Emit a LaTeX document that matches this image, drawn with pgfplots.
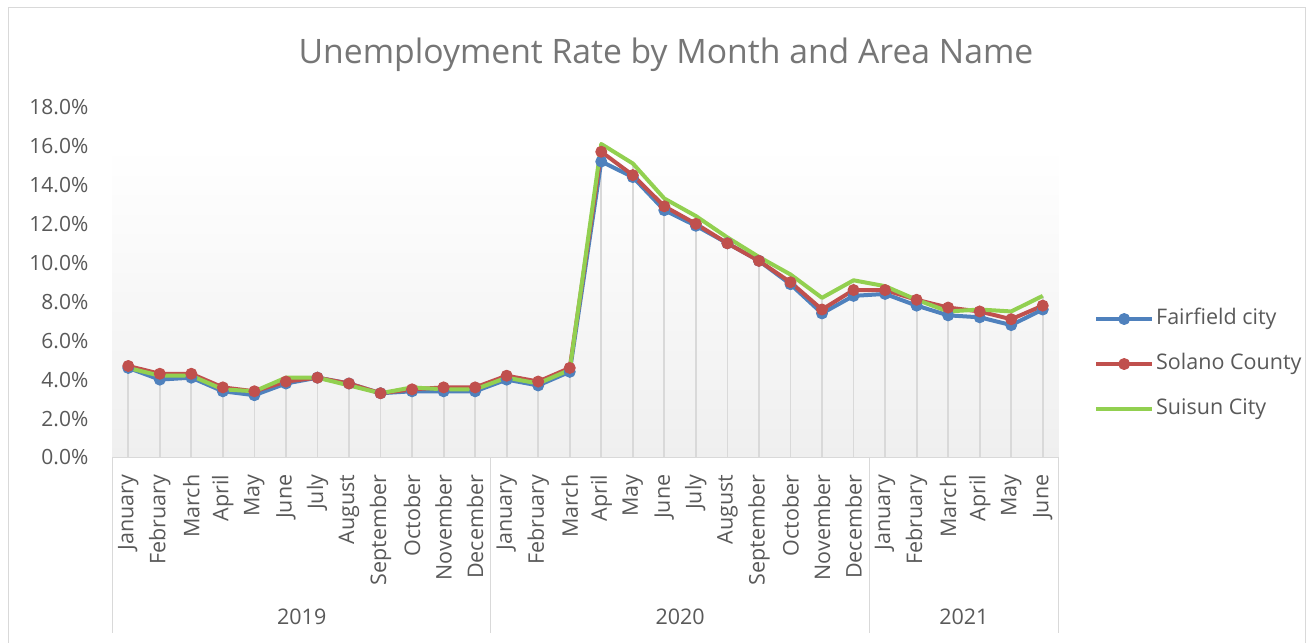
\documentclass[border=0pt]{standalone}
\usepackage{pgfplots}
\pgfplotsset{compat=1.18}
\usepackage{pgfplotstable}
\usepackage{fontspec}
\setmainfont{Open Sans}
\definecolor{cblue}{RGB}{79,129,189}
\definecolor{cred}{RGB}{192,80,77}
\definecolor{cgreen}{RGB}{146,208,80}
\definecolor{txt}{RGB}{89,89,89}
\definecolor{ttl}{RGB}{118,118,118}
\definecolor{lgray}{RGB}{217,217,217}
\definecolor{bgbot}{RGB}{239,239,239}

\pgfplotstableread{
x fair sol sui
0 4.6 4.7 4.6
1 4.0 4.3 4.2
2 4.1 4.3 4.2
3 3.4 3.6 3.5
4 3.2 3.4 3.4
5 3.8 3.9 4.1
6 4.1 4.1 4.1
7 3.8 3.8 3.7
8 3.3 3.3 3.3
9 3.4 3.5 3.6
10 3.4 3.6 3.5
11 3.4 3.6 3.5
12 4.0 4.2 4.1
13 3.7 3.9 3.8
14 4.4 4.6 4.5
15 15.2 15.7 16.1
16 14.4 14.5 15.1
17 12.7 12.9 13.3
18 11.9 12.0 12.4
19 11.0 11.0 11.3
20 10.1 10.1 10.3
21 8.9 9.0 9.4
22 7.4 7.6 8.2
23 8.3 8.6 9.1
24 8.4 8.6 8.8
25 7.8 8.1 8.1
26 7.3 7.7 7.5
27 7.2 7.5 7.6
28 6.8 7.1 7.5
29 7.6 7.8 8.3
}\data

\begin{document}
\begin{tikzpicture}
\begin{axis}[
  at={(112.5pt,184.5pt)}, anchor=south west,
  scale only axis, width=946pt, height=350.5pt,
  xmin=-0.5, xmax=29.5, ymin=0, ymax=18,
  clip=false,
  axis line style={draw=none}, tick style={draw=none},
  ytick={0,2,...,18},
  yticklabel={\pgfmathprintnumber[fixed,fixed zerofill,precision=1,assume math mode=true]{\tick}\%},
  yticklabel style={font=\fontsize{21}{25}\selectfont, text=txt, anchor=east, inner sep=0pt},
  yticklabel shift=24pt,
  xtick={0,...,29},
  xticklabels={January,February,March,April,May,June,July,August,September,October,November,December,January,February,March,April,May,June,July,August,September,October,November,December,January,February,March,April,May,June},
  xticklabel style={font=\fontsize{21.5}{25}\selectfont, text=txt, rotate=90, anchor=east, inner sep=0pt},
  xticklabel shift=17pt,
  legend cell align=left,
  legend style={draw=none, fill=none, at={(1.0375,0.2667)}, anchor=west, inner sep=0pt,
    row sep=24pt, font=\fontsize{21.5}{25}\selectfont, text=txt,
    nodes={inner ysep=0pt, inner xsep=2pt, text height=16pt, text depth=5pt}},
  legend image code/.code={\draw[#1, mark repeat=2, mark phase=2] plot coordinates {(0pt,0pt) (28pt,0pt) (56pt,0pt)};},
]
\path[shade, top color=white, bottom color=bgbot] (axis cs:-0.5,0) rectangle (axis cs:29.5,16);
\addplot[forget plot, ycomb, lgray, line width=1.8pt, no marks] table[x=x, y expr={max(\thisrow{fair},\thisrow{sol},\thisrow{sui})}]{\data};
\addplot[cblue, line width=4pt, line join=round, mark=*, mark size=5.5pt, mark options={line width=1pt, fill=cblue}] table[x=x,y=fair]{\data};
\addlegendentry{Fairfield city}
\addplot[cred, line width=4pt, line join=round, mark=*, mark size=5.5pt, mark options={line width=1pt, fill=cred}] table[x=x,y=sol]{\data};
\addlegendentry{Solano County}
\addplot[cgreen, line width=4pt, line join=round, no marks] table[x=x,y=sui]{\data};
\addlegendentry{Suisun City}
\end{axis}
% category box
\draw[lgray, line width=1pt] (112.5pt,184.5pt) -- (1058.5pt,184.5pt);
\foreach \xx in {112.5,490.9,869.3,1058.5} {\draw[lgray, line width=1pt] (\xx pt,184.5pt) -- (\xx pt,9pt);}
\node[text=txt, font=\fontsize{21.5}{25}\selectfont] at (301.7pt,25pt) {2019};
\node[text=txt, font=\fontsize{21.5}{25}\selectfont] at (680.1pt,25pt) {2020};
\node[text=txt, font=\fontsize{21.5}{25}\selectfont] at (963.9pt,25pt) {2021};
\node[text=ttl, font=\fontsize{33.7}{40}\selectfont] at (666pt,587pt) {Unemployment Rate by Month and Area Name};
\draw[lgray, line width=1pt] (8pt,-5pt) -- (8pt,634pt) -- (1305pt,634pt) -- (1305pt,-5pt);
\pgfresetboundingbox
\useasboundingbox (0pt,0pt) rectangle (1313pt,642pt);
\end{tikzpicture}
\end{document}
